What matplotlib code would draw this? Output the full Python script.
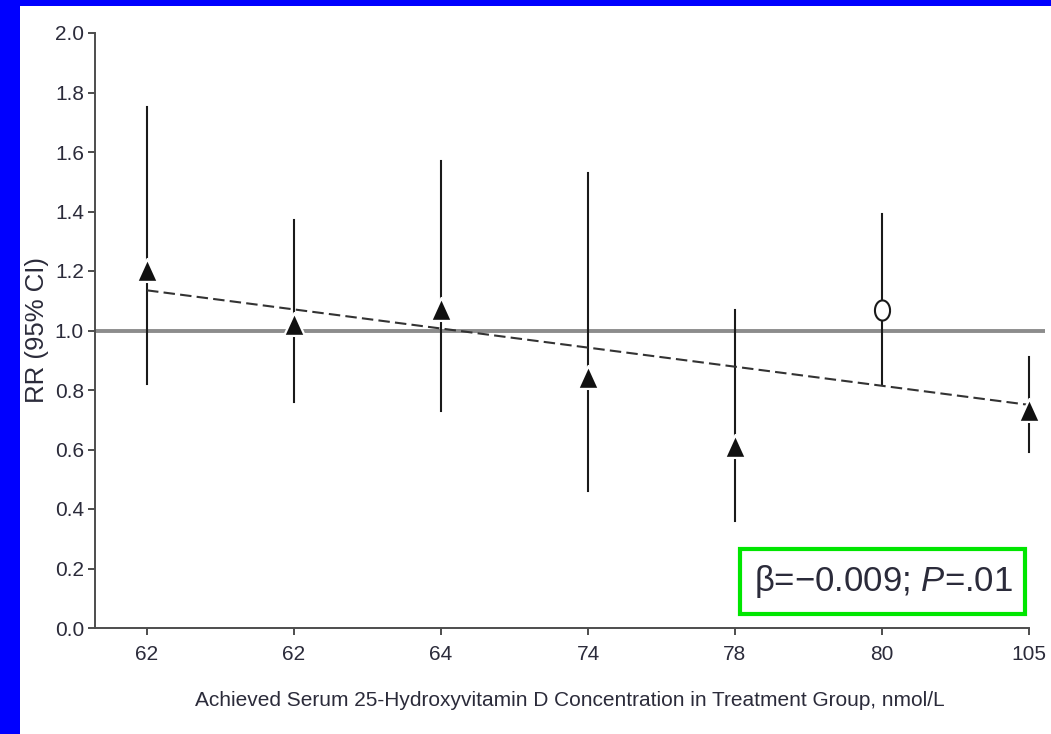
import numpy as np
import matplotlib
matplotlib.use("Agg")
import matplotlib.pyplot as plt
from matplotlib.path import Path
from matplotlib.patches import Rectangle

# ---------------------------------------------------------------- data
labels = ['62', '62', '64', '74', '78', '80', '105']
rr = [1.20, 1.02, 1.07, 0.84, 0.61, 1.07, 0.73]
lo = [0.82, 0.76, 0.73, 0.46, 0.36, 0.82, 0.59]
hi = [1.75, 1.37, 1.57, 1.53, 1.07, 1.39, 0.91]
open_pt = [False, False, False, False, False, True, False]
trend_x = [0, 6]
trend_y = [1.135, 0.75]
yticks = [0.0, 0.2, 0.4, 0.6, 0.8, 1.0, 1.2, 1.4, 1.6, 1.8, 2.0]

# ---------------------------------------------------------------- style
plt.rcParams['font.family'] = ['Liberation Sans', 'DejaVu Sans']
plt.rcParams['mathtext.fontset'] = 'custom'
plt.rcParams['mathtext.rm'] = 'Liberation Sans'
plt.rcParams['mathtext.it'] = 'Liberation Sans:italic'
txtc = '#2b2b3a'
W, H = 1051, 734
fig = plt.figure(figsize=(W/100, H/100), dpi=100, facecolor='#0000ff')
fig.patches.append(Rectangle((20/W, 0), 1 - 20/W, (H-6)/H, transform=fig.transFigure,
                             facecolor='white', edgecolor='none', zorder=-5))

ax = fig.add_axes([95/W, (H-628)/H, (1045-95)/W, (628-33)/H])
ax.set_facecolor('none')

# tall-ish markers (picture is slightly stretched vertically)
tri = Path([(0, 1.2), (-1, -1.0), (1, -1.0), (0, 1.2)],
           [Path.MOVETO, Path.LINETO, Path.LINETO, Path.CLOSEPOLY])
t = np.linspace(0, 2*np.pi, 60)
ell = Path(np.column_stack([0.75*np.cos(t), np.sin(t)]))

x = np.arange(len(labels))
for i in range(len(labels)):
  ax.plot([x[i], x[i]], [lo[i], hi[i]], color='#1a1a1a', lw=1.5, zorder=3)
ax.axhline(1.0, color='#8c8c8c', lw=2.8, zorder=2)
ax.plot(trend_x, trend_y, color='#333333', lw=1.5, dashes=[5.5, 2.5], zorder=4)
for i in range(len(labels)):
  if open_pt[i]:
    ax.plot(x[i], rr[i], marker=ell, ms=14.5, mfc='white', mec='#1a1a1a', mew=1.5, zorder=6)
  else:
    ax.plot(x[i], rr[i], marker=tri, ms=18, mfc='#111111', mec='white', mew=1.6, zorder=6)

ax.set_xlim(-0.354, 6.109)
ax.set_ylim(0, 2.0)
ax.set_xticks(x)
ax.set_xticklabels(labels)
ax.set_yticks(yticks)
ax.set_yticklabels(['%.1f' % v for v in yticks])
for s in ['top', 'right']:
  ax.spines[s].set_visible(False)
for s in ['left', 'bottom']:
  ax.spines[s].set_color('#4d4d4d')
  ax.spines[s].set_linewidth(1.4)
ax.spines['bottom'].set_bounds(-0.354, 6)
ax.tick_params(axis='both', colors='#4d4d4d', width=1.4, length=5, labelsize=15,
               labelcolor=txtc)
ax.tick_params(axis='x', pad=7)
ax.tick_params(axis='y', pad=3)

fig.text(37/W, (H-330)/H, 'RR (95% CI)', rotation=90, ha='center', va='center',
         fontsize=18.5, color=txtc)
fig.text(570/W, (H-701)/H,
         'Achieved Serum 25-Hydroxyvitamin D Concentration in Treatment Group, nmol/L',
         ha='center', va='center', fontsize=15, color=txtc)

# annotation box
fig.patches.append(Rectangle((740/W, (H-614)/H), 285/W, 65/H, transform=fig.transFigure,
                             facecolor='white', edgecolor='#00e600', lw=3, zorder=5))
fig.text(883/W, (H-581)/H, '\u03b2=\u22120.009; $\\mathit{P}$=.01',
         ha='center', va='center', fontsize=25, color=txtc, zorder=6)
fig.savefig('out.png', dpi=100, facecolor=fig.get_facecolor())
